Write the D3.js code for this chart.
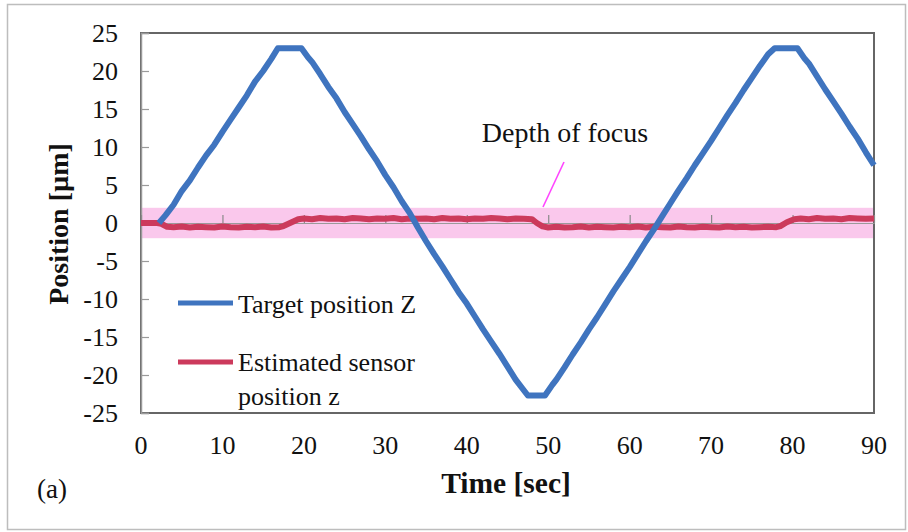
<!DOCTYPE html>
<html><head><meta charset="utf-8">
<script src="https://cdn.jsdelivr.net/npm/d3@7"></script>
<style>body{margin:0;background:#fff}svg{display:block}text{font-family:"Liberation Serif","Times New Roman",serif;fill:#111}</style>
</head><body><svg id="c" width="908" height="532"></svg>
<script>
// ---- data ----
const xTicks = [0,10,20,30,40,50,60,70,80,90];
const yTicks = [-25,-20,-15,-10,-5,0,5,10,15,20,25];
const depthOfFocus = [-2, 2];
const targetT = [2.2,3,4,5,6,7,8,9,10,11,12,13,14,15,16,16.8,19.7,20.5,21,22,23,24,25,26,27,28,29,30,31,32,33,34,35,36,37,38,39,40,41,42,43,44,45,46,47,47.5,49.6,50.5,51,52,53,54,55,56,57,58,59,60,61,62,63,64,65,66,67,68,69,70,71,72,73,74,75,76,77,77.8,80.6,81.5,82,83,84,85,86,87,88,89,90];
const targetZ = [0,1.0,2.4,4.2,5.6,7.3,8.9,10.3,12.0,13.6,15.2,16.8,18.6,20.0,21.6,23.0,23.0,21.8,21.2,19.6,17.9,16.4,14.6,13.0,11.4,9.7,8.1,6.3,4.7,2.9,1.3,-0.6,-2.4,-4.1,-5.7,-7.4,-9.1,-10.6,-12.3,-14.0,-15.6,-17.2,-18.9,-20.6,-22.0,-22.7,-22.7,-21.3,-20.6,-19.0,-17.3,-15.7,-14.0,-12.4,-10.7,-9.0,-7.4,-5.8,-4.1,-2.4,-0.8,0.9,2.6,4.3,5.9,7.6,9.2,10.8,12.5,14.2,15.8,17.5,19.1,20.7,22.2,23.0,23.0,21.6,21.0,19.3,17.6,16.0,14.4,12.7,11.1,9.3,7.6];
const sensorT = [0,1,2,2.5,3.2,4,5,6,7,8,9,10,11,12,13,14,15,16,17,17.5,18.5,19.3,20,21,22,23,24,25,26,27,28,29,30,31,32,33,34,35,36,37,38,39,40,41,42,43,44,45,46,47,48,48.6,49.3,50,51,52,53,54,55,56,57,58,59,60,61,62,63,64,65,66,67,68,69,70,71,72,73,74,75,76,77,78,78.5,79.3,80.2,81,82,83,84,85,86,87,88,89,90];
const sensorZ = [0,0,0,-0.1,-0.5,-0.55,-0.45,-0.6,-0.5,-0.55,-0.6,-0.45,-0.55,-0.6,-0.5,-0.55,-0.45,-0.6,-0.55,-0.4,0.1,0.5,0.6,0.5,0.65,0.55,0.6,0.5,0.65,0.6,0.5,0.6,0.55,0.65,0.5,0.6,0.55,0.6,0.5,0.65,0.55,0.6,0.5,0.6,0.55,0.65,0.6,0.5,0.6,0.55,0.5,0.0,-0.45,-0.6,-0.5,-0.6,-0.55,-0.45,-0.6,-0.5,-0.55,-0.6,-0.5,-0.55,-0.45,-0.6,-0.5,-0.55,-0.6,-0.45,-0.55,-0.6,-0.5,-0.55,-0.6,-0.45,-0.55,-0.5,-0.6,-0.55,-0.5,-0.55,-0.4,0.1,0.5,0.6,0.5,0.65,0.55,0.6,0.5,0.65,0.6,0.55,0.6];
const seriesNames = ["Target position Z", ["Estimated sensor","position z"]];
const xTitle = "Time [sec]", yTitle = "Position [µm]", annot = "Depth of focus", panel = "(a)";

// ---- drawing ----
const svg = d3.select("#c");
const blue = "#3f74bf", red = "#cc3a5c";
svg.append("rect").attr("x",7.5).attr("y",4.5).attr("width",898).attr("height",525)
  .attr("fill","none").attr("stroke","#bdbdbd").attr("stroke-width",1.5);

const x = d3.scaleLinear().domain([0,90]).range([141,874]);
const y = d3.scaleLinear().domain([-25,25]).range([413,33]);

// depth of focus band
svg.append("rect").attr("x",x(0)).attr("width",x(90)-x(0))
  .attr("y",y(depthOfFocus[1])).attr("height",y(depthOfFocus[0])-y(depthOfFocus[1]))
  .attr("fill","#fac8ec");

// plot border
svg.append("rect").attr("x",x(0)).attr("y",y(25)).attr("width",x(90)-x(0)).attr("height",y(-25)-y(25))
  .attr("fill","none").attr("stroke","#666").attr("stroke-width",2);

// y axis (ticks inward)
const yAx = svg.append("g").attr("transform",`translate(${x(0)},0)`)
  .call(d3.axisRight(y).tickValues(yTicks).tickSize(8).tickFormat(""));
yAx.select(".domain").attr("stroke","#9a9a9a").attr("stroke-width",1.5);
yAx.selectAll(".tick line").attr("stroke","#9a9a9a").attr("stroke-width",1.2);
svg.append("g").selectAll("text").data(yTicks).join("text")
  .attr("x",118).attr("y",d=>y(d)+9).attr("text-anchor","end").attr("font-size",26).text(d=>d);

// x axis at y=0 with upward ticks
const xAx = svg.append("g").attr("transform",`translate(0,${y(0)})`)
  .call(d3.axisTop(x).tickValues(xTicks).tickSize(8).tickFormat(""));
xAx.select(".domain").attr("stroke","#9a9a9a").attr("stroke-width",1);
xAx.selectAll(".tick line").attr("stroke","#8a8a8a").attr("stroke-width",1.2);
svg.append("g").selectAll("text").data(xTicks).join("text")
  .attr("x",d=>x(d)).attr("y",454).attr("text-anchor","middle").attr("font-size",26).text(d=>d);

// lines
const line = d3.line().x(d=>x(d[0])).y(d=>y(d[1]));
svg.append("path").datum(sensorT.map((t,i)=>[t,sensorZ[i]])).attr("d",line)
  .attr("fill","none").attr("stroke",red).attr("stroke-width",6).attr("stroke-linejoin","round");
svg.append("path").datum(targetT.map((t,i)=>[t,targetZ[i]])).attr("d",line)
  .attr("fill","none").attr("stroke",blue).attr("stroke-width",6).attr("stroke-linejoin","round");

// annotation
svg.append("line").attr("x1",543).attr("y1",207).attr("x2",564).attr("y2",162)
  .attr("stroke","#ff44ff").attr("stroke-width",1.6);
svg.append("text").attr("x",565).attr("y",142).attr("text-anchor","middle").attr("font-size",28).text(annot);

// legend
svg.append("line").attr("x1",178).attr("x2",233).attr("y1",303).attr("y2",303).attr("stroke",blue).attr("stroke-width",5);
svg.append("text").attr("x",238).attr("y",313).attr("font-size",26).text(seriesNames[0]);
svg.append("line").attr("x1",178).attr("x2",233).attr("y1",362).attr("y2",362).attr("stroke",red).attr("stroke-width",5);
svg.append("text").attr("x",238).attr("y",371).attr("font-size",26).text(seriesNames[1][0]);
svg.append("text").attr("x",238).attr("y",405).attr("font-size",26).text(seriesNames[1][1]);

// titles
svg.append("text").attr("x",506).attr("y",493).attr("text-anchor","middle").attr("font-size",29.5)
  .attr("font-weight","bold").text(xTitle);
svg.append("text").attr("transform","translate(68,224) rotate(-90)").attr("text-anchor","middle")
  .attr("font-size",28).attr("font-weight","bold").text(yTitle);
svg.append("text").attr("x",37).attr("y",498).attr("font-size",27).text(panel);
</script></body></html>
